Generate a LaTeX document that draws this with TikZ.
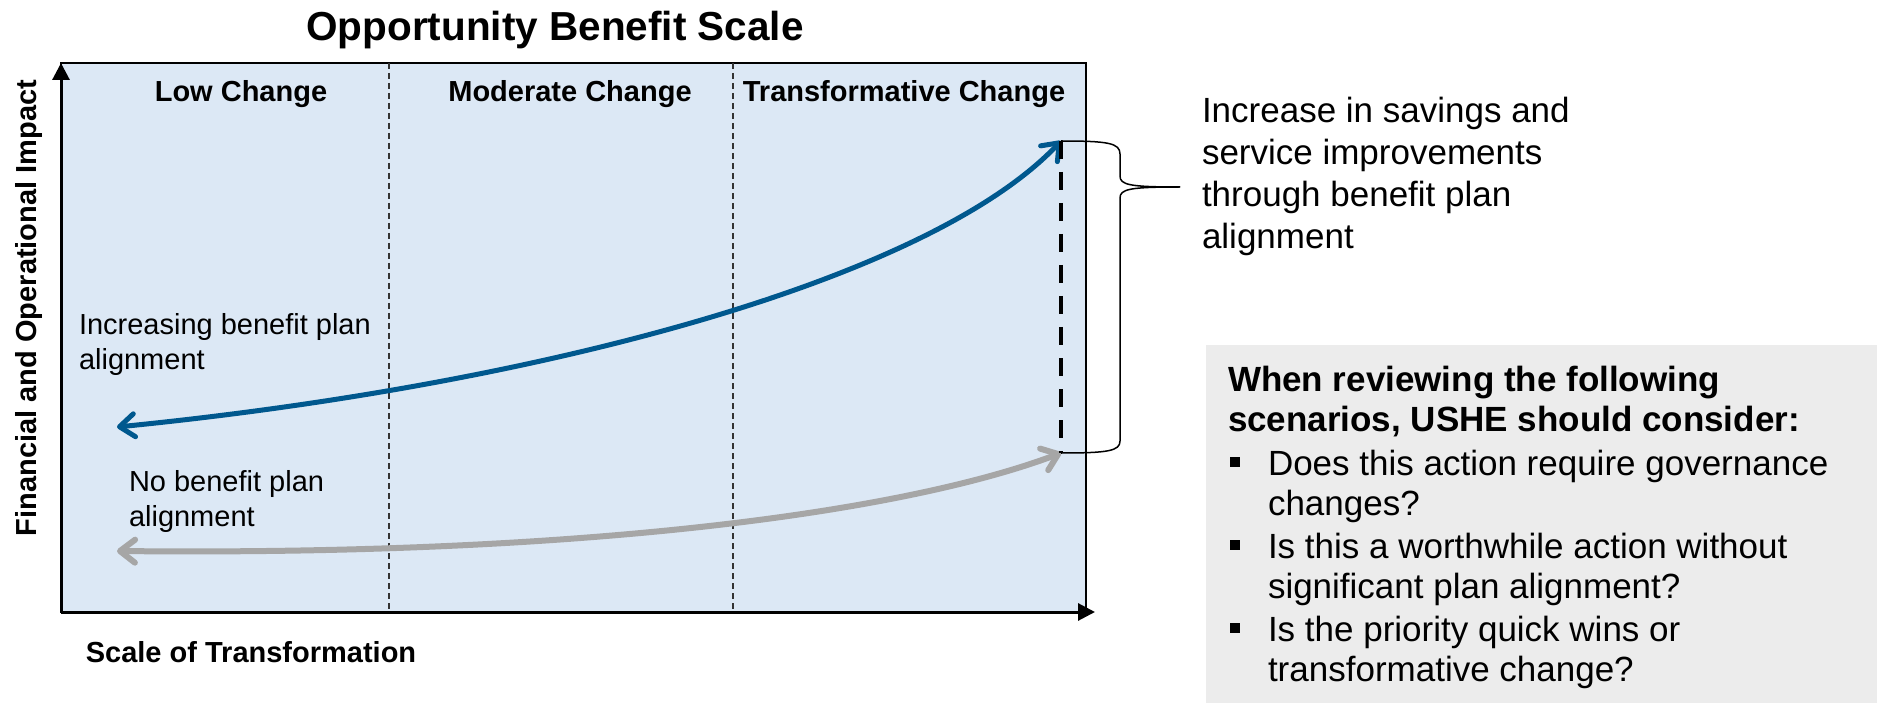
\documentclass[tikz,border=0pt]{standalone}
\usepackage{fontspec}
\setmainfont{Liberation Sans}
\usetikzlibrary{arrows.meta}
\definecolor{curveblue}{RGB}{0,88,142}
\definecolor{curvegray}{RGB}{166,166,166}
\definecolor{panelblue}{RGB}{220,232,245}
\definecolor{boxgray}{RGB}{236,236,236}
\tikzset{
  lbl/.style={inner sep=0pt, outer sep=0pt},
  headbold/.style={lbl, font=\fontsize{29}{35}\selectfont\bfseries},
  body29/.style={lbl, align=left, anchor=north west, font=\fontsize{29}{35}\selectfont},
  body35/.style={lbl, align=left, anchor=north west, font=\fontsize{35}{42}\selectfont},
  boxtext/.style={lbl, align=left, anchor=north west, font=\fontsize{35}{40}\selectfont},
  divider/.style={line width=1.2pt, dash pattern=on 6pt off 4pt, black!80},
  axis/.style={line width=3pt, -{Triangle[length=17pt,width=17pt]}},
  bluecurve/.style={curveblue, line width=5pt, {Straight Barb[length=15pt,width=23pt,round]}-{Straight Barb[length=15pt,width=23pt,round]}},
  graycurve/.style={curvegray, line width=6pt, {Straight Barb[length=15pt,width=23pt,round]}-{Straight Barb[length=15pt,width=23pt,round]}},
  gapline/.style={line width=4pt, dash pattern=on 18pt off 13pt},
  brace/.style={line width=1.5pt},
  bulletsq/.style={fill=black, minimum size=10pt, inner sep=0pt},
}
\begin{document}
\begin{tikzpicture}[x=1pt,y=-1pt]
\useasboundingbox (0,0) rectangle (1877,703);
% panel
\draw[fill=panelblue, line width=1.5pt] (61,63) rectangle (1086,612);
\coordinate (origin) at (61,612);
\coordinate (xend) at (1095,612);
\coordinate (yend) at (61,63);
\draw[divider] (389,63) -- (389,612);
\draw[divider] (733,63) -- (733,612);
\draw[axis] (origin) -- (xend);
\draw[axis] (origin) -- (yend);
% title and labels
\node[lbl, anchor=base, font=\fontsize{40.5}{48}\selectfont\bfseries] (title) at (555,41) {Opportunity Benefit Scale};
\node[headbold, anchor=base] (low) at (241,102) {Low Change};
\node[headbold, anchor=base] (mod) at (570,102) {Moderate Change};
\node[headbold, anchor=base] (trans) at (904,102) {Transformative Change};
\node[headbold, anchor=base] (xlab) at (251,662) {Scale of Transformation};
\node[headbold, anchor=base, rotate=90] (ylab) at (36,308) {Financial and Operational Impact};
\node[body29] (inc) at (79,313) {Increasing benefit plan\\alignment};
\node[body29] (nob) at (129,470) {No benefit plan\\alignment};
% curves
\coordinate (blueL) at (117,427);
\coordinate (blueR) at (1061,141);
\coordinate (grayL) at (117,551);
\coordinate (grayR) at (1061,453);
\draw[bluecurve] (blueL) .. controls (540,385) and (930,280) .. (blueR);
\draw[graycurve] (grayL) .. controls (600,556) and (910,510) .. (grayR);
\draw[gapline] (blueR) -- (grayR);
% brace
\coordinate (tip) at (1180,187);
\draw[brace] (blueR) .. controls (1108,141) and (1120,143) .. (1120,154) -- (1120,176)
  .. controls (1120,185) and (1130,187) .. (tip);
\draw[brace] (tip) .. controls (1130,187) and (1120,189) .. (1120,198) -- (1120,441)
  .. controls (1120,451) and (1108,453) .. (grayR);
\node[body35] (gain) at (1202,97) {Increase in savings and\\service improvements\\through benefit plan\\alignment};
% box
\fill[boxgray] (1206,345) rectangle (1877,703);
\node[boxtext, font=\fontsize{35}{40}\selectfont\bfseries] (head) at (1228,366) {When reviewing the following\\scenarios, USHE should consider:};
\node[bulletsq] (b1) at (1235,462) {};
\node[bulletsq] (b2) at (1235,545) {};
\node[bulletsq] (b3) at (1235,628) {};
\node[boxtext] (q1) at (1268,450) {Does this action require governance\\changes?};
\node[boxtext] (q2) at (1268,533) {Is this a worthwhile action without\\significant plan alignment?};
\node[boxtext] (q3) at (1268,616) {Is the priority quick wins or\\transformative change?};
\end{tikzpicture}
\end{document}
